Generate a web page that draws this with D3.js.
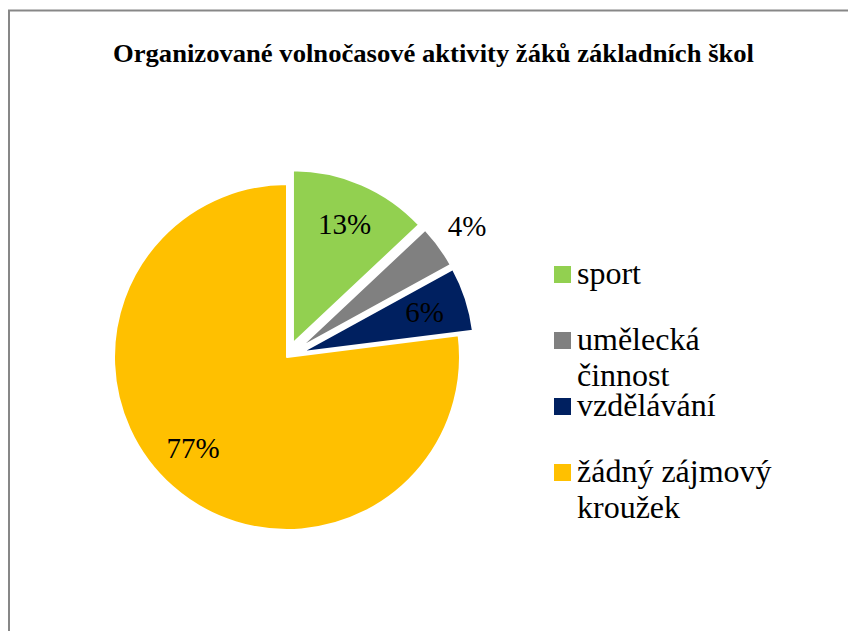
<!DOCTYPE html>
<html>
<head>
<meta charset="utf-8">
<script src="https://cdn.jsdelivr.net/npm/d3@7"></script>
<style>
  html, body { margin: 0; padding: 0; background: #fff; }
  svg { display: block; }
  svg text { font-family: 'Liberation Serif', 'Tinos', 'DejaVu Serif', serif; }
</style>
</head>
<body>
<div id="chart"></div>
<script>
var categories = ['sport', 'umělecká činnost', 'vzdělávání', 'žádný zájmový kroužek'];
var values = [13, 4, 6, 77];
var colors = ['#92D050', '#808080', '#002060', '#FFC000'];
var exploded = [true, true, true, false];
// legend text split into lines as in the original
var legendLines = [['sport'], ['umělecká', 'činnost'], ['vzdělávání'], ['žádný zájmový', 'kroužek']];
var title = 'Organizované volnočasové aktivity žáků základních škol';

function renderPieChart(selector) {
    var width = 848,
        height = 631;

    var cx = 287,
        cy = 357,
        radius = 173,
        explode = 15;

    var svg = d3.select(selector).append('svg')
        .attr('width', width)
        .attr('height', height);

    // chart area border (runs off the right and bottom edge)
    svg.append('rect')
        .attr('x', 9)
        .attr('y', 10.5)
        .attr('width', width + 20)
        .attr('height', height + 20)
        .attr('fill', 'none')
        .attr('stroke', '#878787')
        .attr('stroke-width', 2);

    svg.append('text')
        .attr('x', 433.5)
        .attr('y', 62)
        .attr('text-anchor', 'middle')
        .style('font-weight', 'bold')
        .style('font-size', '26px')
        .attr('textLength', 641)
        .attr('lengthAdjust', 'spacingAndGlyphs')
        .text(title);

    var data = categories.map(function (c, i) {
        return { name: c, value: values[i], color: colors[i], explode: exploded[i] };
    });

    // pie generator, clockwise from 12 o'clock
    var pie = d3.pie()
        .sort(null)
        .value(function (d) { return d.value; });

    var arc = d3.arc()
        .outerRadius(radius)
        .innerRadius(0);

    var labelArc = d3.arc()
        .outerRadius(radius * 0.75)
        .innerRadius(radius * 0.75);

    var outerLabelArc = d3.arc()
        .outerRadius(radius * 1.2)
        .innerRadius(radius * 1.2);

    var g = svg.append('g')
        .attr('transform', 'translate(' + cx + ',' + cy + ')');

    var slices = g.selectAll('.arc')
        .data(pie(data))
        .enter()
        .append('g')
        .attr('class', 'arc')
        .attr('transform', function (d) {
            if (!d.data.explode) return null;
            var a = (d.startAngle + d.endAngle) / 2;
            return 'translate(' + (Math.sin(a) * explode) + ',' + (-Math.cos(a) * explode) + ')';
        });

    slices.append('path')
        .attr('d', arc)
        .style('fill', function (d) { return d.data.color; })
        .style('stroke', '#fff')
        .style('stroke-width', 2)
        .style('stroke-linejoin', 'round');

    // labels, small slice gets its label outside
    slices.append('text')
        .attr('transform', function (d) {
            var p = d.data.value < 5 ? outerLabelArc.centroid(d) : labelArc.centroid(d);
            // big slice label sits a bit further round in the original
            if (d.data.value > 50) p = [p[0] - 8, p[1] - 6];
            return 'translate(' + p + ')';
        })
        .attr('dy', '.35em')
        .attr('text-anchor', 'middle')
        .style('font-size', '29px')
        .attr('fill', '#000')
        .text(function (d) { return d.data.value + '%'; });

    // legend
    var legend = svg.append('g')
        .attr('transform', 'translate(554,284)');

    var item = legend.selectAll('.item')
        .data(data)
        .enter()
        .append('g')
        .attr('class', 'item')
        .attr('transform', function (d, i) { return 'translate(0,' + (i * 66) + ')'; });

    item.append('rect')
        .attr('x', 0)
        .attr('y', -18)
        .attr('width', 17)
        .attr('height', 17)
        .style('fill', function (d) { return d.color; });

    var txt = item.append('text')
        .attr('x', 23)
        .attr('y', 0)
        .style('font-size', '32px')
        .attr('fill', '#000');

    txt.selectAll('tspan')
        .data(function (d, i) { return legendLines[i]; })
        .enter()
        .append('tspan')
        .attr('x', 23)
        .attr('dy', function (d, j) { return j === 0 ? 0 : 36; })
        .text(function (d) { return d; });
}

renderPieChart('#chart');
</script>
</body>
</html>
